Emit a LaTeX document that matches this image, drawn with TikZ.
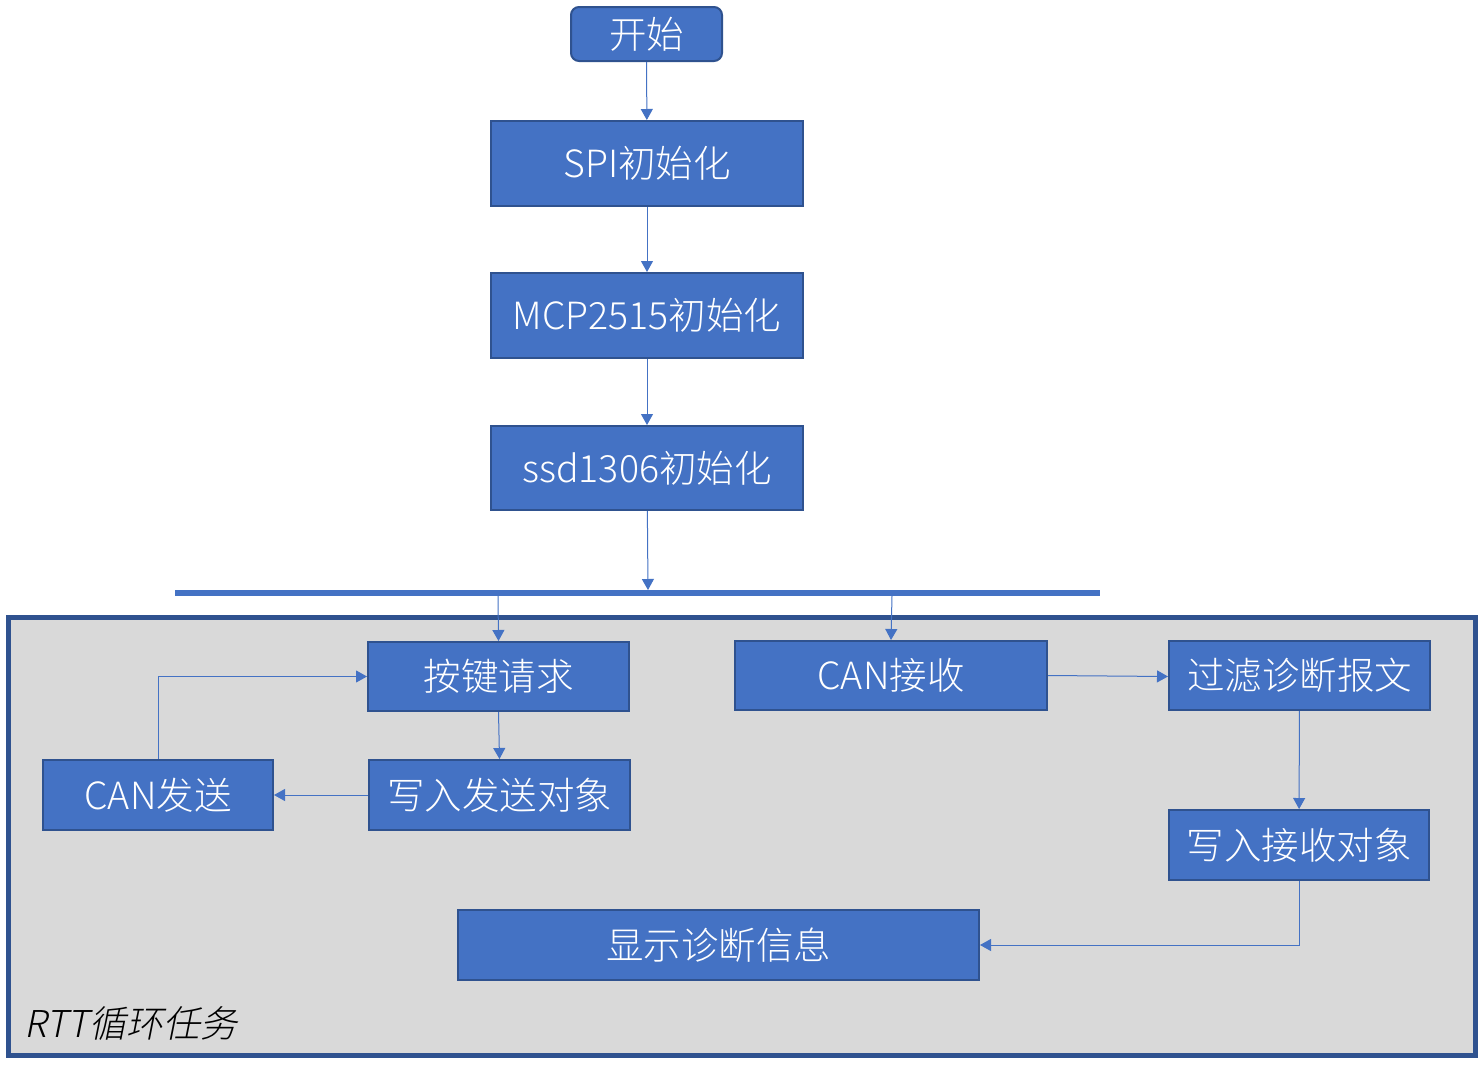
\documentclass[tikz,border=0pt]{standalone}
\usepackage{fontspec}
\setmainfont{Noto Sans CJK SC}[UprightFont=* Light]
\newfontfamily\slantfont{Noto Sans CJK SC}[UprightFont=* Light, FakeSlant=0.2]
\usetikzlibrary{arrows.meta}
\definecolor{boxfill}{HTML}{4472C4}
\definecolor{boxline}{HTML}{2F528F}
\definecolor{panel}{HTML}{D9D9D9}
\tikzset{
  box/.style={draw=boxline, line width=2pt, fill=boxfill, text=white, inner sep=0pt,
    font=\fontsize{37.5}{42}\selectfont},
  conn/.style={draw=boxfill, line width=1pt, -{Triangle[width=12pt,length=11pt]}},
}
\begin{document}
\begin{tikzpicture}[x=1pt,y=-1pt]
\useasboundingbox (0,0) rectangle (1478,1068);
\fill[white] (0,0) rectangle (1478,1068);
% panel
\draw[draw=boxline, line width=5pt, fill=panel] (8.5,617.5) rectangle (1475,1055.5);
\node[anchor=west, font=\slantfont\fontsize{37}{42}\selectfont, inner sep=0pt] (rtt) at (24,1023) {RTT循环任务};
% bar
\draw[boxfill, line width=6pt] (175,593) -- (1100,593);
\coordinate (barA) at (498,596);
\coordinate (barB) at (892,596);
\coordinate (barIn) at (648,590);
% nodes
\node[box, rounded corners=8pt, minimum width=151pt, minimum height=54pt] (start) at (646.5,34) {开始};
\node[box, minimum width=312pt, minimum height=85pt] (spi) at (647,163.5) {SPI初始化};
\node[box, minimum width=312pt, minimum height=85pt] (mcp) at (647,315.5) {MCP2515初始化};
\node[box, minimum width=312pt, minimum height=84pt] (ssd) at (647,468) {ssd1306初始化};
\node[box, minimum width=261pt, minimum height=69pt] (key) at (498.5,676.5) {按键请求};
\node[box, minimum width=312pt, minimum height=69pt] (canrx) at (891,675.5) {CAN接收};
\node[box, minimum width=261pt, minimum height=69pt] (filter) at (1299.5,675.5) {过滤诊断报文};
\node[box, minimum width=230pt, minimum height=70pt] (cantx) at (158,795) {CAN发送};
\node[box, minimum width=261pt, minimum height=70pt] (wtx) at (499.5,795) {写入发送对象};
\node[box, minimum width=260pt, minimum height=70pt] (wrx) at (1299,845) {写入接收对象};
\node[box, minimum width=521pt, minimum height=70pt] (disp) at (718.5,945) {显示诊断信息};
% connectors
\draw[conn] (start) -- (spi);
\draw[conn] (spi) -- (mcp);
\draw[conn] (mcp) -- (ssd);
\draw[conn] (ssd) -- (barIn);
\draw[conn] (barA) -- (key.north);
\draw[conn] (barB) -- (canrx.north);
\draw[conn] (key.south) -- (wtx.north);
\draw[conn] (wtx) -- (cantx);
\draw[conn] (cantx.north) |- (key.west);
\draw[conn] (canrx.east) -- ([yshift=-1pt]filter.west);
\draw[conn] (filter) -- (wrx);
\draw[conn] (wrx.south) |- (disp.east);
\end{tikzpicture}
\end{document}
